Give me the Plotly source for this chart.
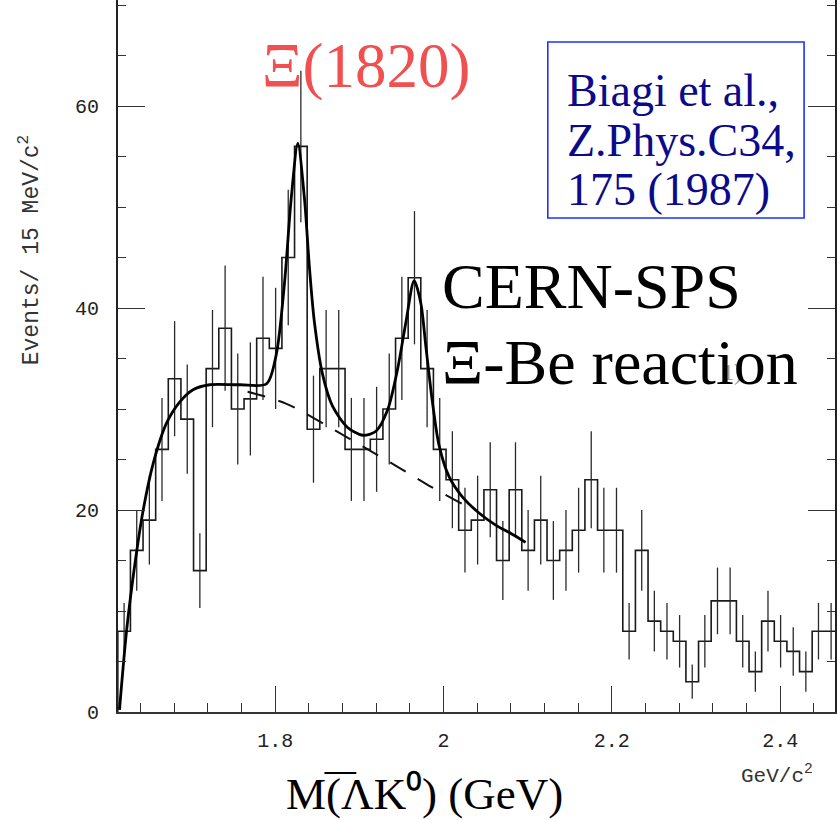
import plotly.graph_objects as go

# ---------------- data ----------------
bin_start = 1.613      # GeV, lower edge of first bin
bin_width = 0.015      # 15 MeV/c^2 per bin
counts = [8, 16, 19, 26, 33, 29, 14, 34, 38, 30,
          31, 37, 36, 45, 56, 28, 34, 34, 26, 26,
          27, 30, 37, 43, 34, 26, 23, 18, 19, 22,
          15, 22, 16, 19, 15, 16, 18, 23, 18, 18,
          8, 16, 9, 8, 7, 3, 7, 11, 11, 7,
          4, 9, 7, 6, 4, 8, 8]
errors = [2.8, 4.0, 4.4, 5.1, 5.7, 5.4, 3.7, 5.8, 6.2, 5.5,
          5.6, 6.1, 6.0, 6.7, 7.5, 5.3, 5.8, 5.8, 5.1, 5.1,
          5.2, 5.5, 6.1, 6.6, 5.8, 5.1, 4.8, 4.2, 4.4, 4.7,
          3.9, 4.7, 4.0, 4.4, 3.9, 4.0, 4.2, 4.8, 4.2, 4.2,
          2.8, 4.0, 3.0, 2.8, 2.6, 1.7, 2.6, 3.3, 3.3, 2.6,
          2.0, 3.0, 2.6, 2.4, 2.0, 2.8, 2.8]

fit_mass = [1.6150, 1.6235, 1.6334, 1.6432, 1.6550, 1.6709, 1.6867, 1.7024,
            1.7222, 1.7578, 1.7898, 1.8013, 1.8111, 1.8190, 1.8269, 1.8348,
            1.8407, 1.8466, 1.8561, 1.8680, 1.8857, 1.9039, 1.9197, 1.9335,
            1.9453, 1.9553, 1.9651, 1.9730, 1.9790, 1.9868, 1.9947, 2.0066,
            2.0224, 2.0422, 2.0620, 2.0816, 2.0975]
fit_events = [0.2, 8.1, 14.7, 20.0, 24.6, 28.6, 30.7, 31.9,
              32.4, 32.4, 32.5, 35.4, 42.5, 50.8, 56.3, 50.8,
              44.0, 38.6, 33.5, 30.3, 28.2, 27.4, 27.8, 29.9,
              33.9, 38.6, 42.7, 40.5, 36.2, 30.7, 26.4, 23.3,
              21.3, 19.7, 18.5, 17.6, 16.8]

bkg_mass = [1.7672, 1.8135, 1.8727, 1.9060, 1.9430, 1.9830, 2.0245, 2.0330]
bkg_events = [31.7, 30.5, 27.8, 26.2, 24.4, 22.4, 20.5, 20.1]

y_ticks = [0, 20, 40, 60]
x_ticks = [1.8, 2.0, 2.2, 2.4]
x_tick_text = ["1.8", "2", "2.2", "2.4"]

# ---------------- layout geometry (pixels) ----------------
W, H = 837, 820
L, B = 118, 108
PW, PH = W - L, H - B


def paper(px, py):
    return (px - L) / PW, (H - B - py) / PH


# ---------------- traces ----------------
edges = [bin_start + bin_width * k for k in range(len(counts) + 1)]
centers = [e + bin_width / 2 for e in edges[:-1]]

step_x = [edges[0]] + edges[:-1] + [edges[-1]]
step_y = [0] + counts + [counts[-1]]

fig = go.Figure()
fig.add_trace(go.Scatter(
    x=step_x, y=step_y, mode="lines", line_shape="hv",
    line=dict(color="#1a1a1a", width=1.6), hoverinfo="skip", showlegend=False))
fig.add_trace(go.Scatter(
    x=centers, y=counts, mode="markers",
    marker=dict(size=1, color="rgba(0,0,0,0)"),
    error_y=dict(type="data", array=errors, visible=True, width=0,
                 thickness=1.3, color="#2a2a2a"),
    showlegend=False))
fig.add_trace(go.Scatter(
    x=bkg_mass, y=bkg_events, mode="lines", line_shape="spline",
    line=dict(color="#111", width=2, dash="18px,14px"), showlegend=False))
fig.add_trace(go.Scatter(
    x=fit_mass, y=fit_events, mode="lines", line_shape="spline",
    line=dict(color="#000", width=2.8, smoothing=0.8), showlegend=False))

x0 = bin_start + (L - 117.8) / 844.0
x1 = x0 + PW / 844.0

tickfont = dict(family="Liberation Mono", size=20, color="#222")
fig.update_xaxes(
    range=[x0, x1], showgrid=False, zeroline=False,
    showline=True, linecolor="#333", linewidth=1.5, mirror=False,
    ticks="inside", ticklen=26, tickwidth=1.3, tickcolor="#333",
    tickvals=x_ticks, ticktext=x_tick_text, tickfont=tickfont,
    ticklabelstandoff=9,
    minor=dict(dtick=0.04, tick0=0, ticks="inside", ticklen=9,
               tickwidth=1.2, tickcolor="#333"))
fig.update_yaxes(
    range=[0, PH / 10.1], showgrid=False, zeroline=False,
    showline=True, linecolor="#222", linewidth=2, mirror="ticks",
    ticks="inside", ticklen=27, tickwidth=1.3, tickcolor="#333",
    tickvals=y_ticks, tickfont=tickfont, ticklabelstandoff=13,
    minor=dict(dtick=5, ticks="inside", ticklen=8, tickwidth=1.2,
               tickcolor="#333"))

annotations = []


def add_text(text, px, py, size, color, family="Liberation Serif",
             xanchor="left", yanchor="middle", angle=0):
    ax, ay = paper(px, py)
    annotations.append(dict(
        text=text, x=ax, y=ay, xref="paper", yref="paper",
        xanchor=xanchor, yanchor=yanchor, showarrow=False, textangle=angle,
        font=dict(family=family, size=size, color=color)))


add_text("1)", 722, 372, 24, "#9a9a9a")
add_text("Ξ(1820)", 367, 66, 63, "#f05050", xanchor="center")
add_text("Biagi et al.,", 566, 91, 46, "#0a0a8a")
add_text("Z.Phys.C34,", 566, 141, 46, "#0a0a8a")
add_text("175 (1987)", 566, 189, 46, "#0a0a8a")
add_text("CERN-SPS", 441, 287, 64, "#000")
add_text("Ξ-Be reaction", 441, 362, 64, "#000")
add_text("M(ΛK⁰) (GeV)", 425, 794, 45, "#000", xanchor="center")
add_text("GeV/c<sup>2</sup>", 779, 774, 21, "#333", family="Liberation Mono",
         xanchor="center")
add_text("Events/ 15 MeV/c<sup>2</sup>", 30, 250, 23, "#333",
         family="Liberation Mono", xanchor="center", angle=-90)

bx0, by0 = paper(549, 218)
bx1, by1 = paper(806, 42)
ox0, oy0 = paper(325, 773)
ox1, _ = paper(357, 773)
shapes = [
    dict(type="rect", xref="paper", yref="paper", x0=bx0, y0=by0, x1=bx1,
         y1=by1, line=dict(color="#1e32ff", width=1.6),
         fillcolor="rgba(0,0,0,0)"),
    dict(type="line", xref="paper", yref="paper", x0=ox0, y0=oy0, x1=ox1,
         y1=oy0, line=dict(color="#000", width=2)),
]

fig.update_layout(
    width=W, height=H, margin=dict(l=L, r=0, t=0, b=B),
    paper_bgcolor="white", plot_bgcolor="white",
    annotations=annotations, shapes=shapes, showlegend=False)

fig.write_html("out.html")
